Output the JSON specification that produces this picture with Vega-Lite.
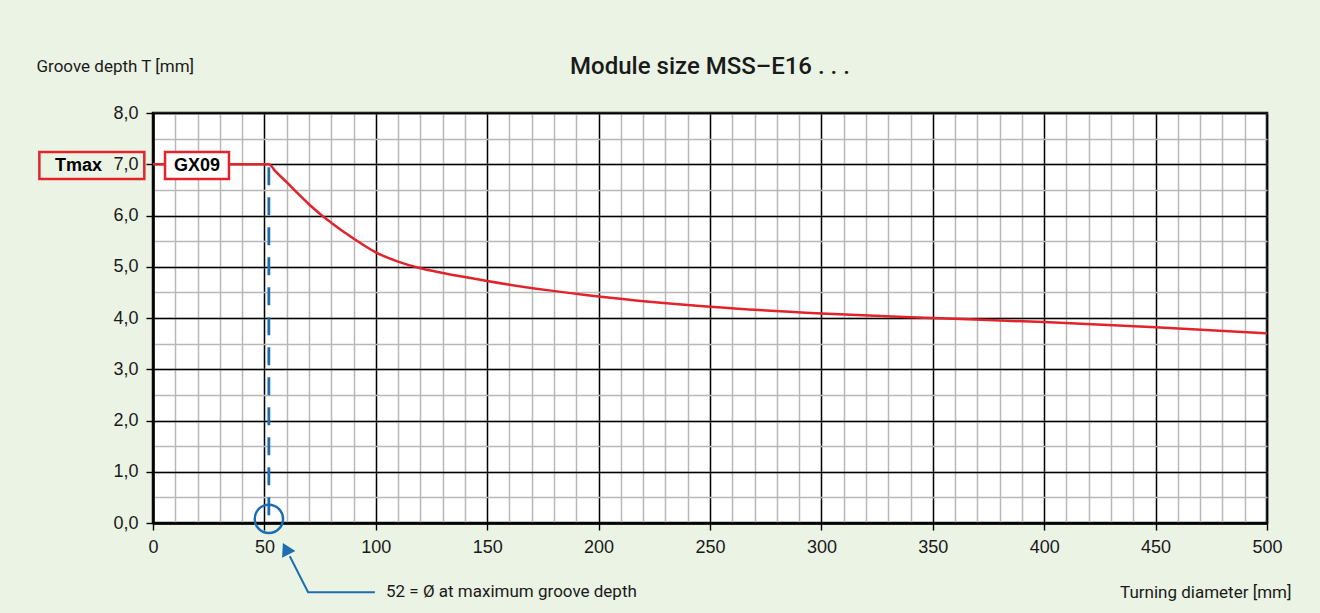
{
  "$schema": "https://vega.github.io/schema/vega-lite/v6.json",
  "width": 1114,
  "height": 410,
  "autosize": {"type": "none"},
  "padding": {"left": 153, "top": 113, "right": 53, "bottom": 90},
  "background": "#ebf3e4",
  "config": {
    "view": {"stroke": "#000000", "strokeWidth": 2.5, "fill": "#ffffff"},
    "font": "Liberation Sans"
  },
  "title": {
    "text": "Module size MSS–E16 . . .",
    "font": "Roboto",
    "fontSize": 24,
    "fontWeight": 500,
    "color": "#1a1a1a",
    "anchor": "middle",
    "frame": "group",
    "offset": 0,
    "dy": 41,
    "baseline": "alphabetic"
  },
  "datasets": {
    "curve": [
      {"d": 0, "t": 7.0}, {"d": 52, "t": 7.0}, {"d": 55, "t": 6.86}, {"d": 60, "t": 6.65},
      {"d": 65, "t": 6.43}, {"d": 70, "t": 6.22}, {"d": 75, "t": 6.03}, {"d": 80, "t": 5.86},
      {"d": 90, "t": 5.55}, {"d": 100, "t": 5.28}, {"d": 110, "t": 5.1}, {"d": 120, "t": 4.97},
      {"d": 130, "t": 4.88}, {"d": 140, "t": 4.8},
      {"d": 150, "t": 4.72}, {"d": 200, "t": 4.42}, {"d": 250, "t": 4.22}, {"d": 300, "t": 4.09},
      {"d": 350, "t": 4.0}, {"d": 400, "t": 3.92}, {"d": 450, "t": 3.82}, {"d": 500, "t": 3.7}
    ],
    "marker": [{"d": 52, "t0": 0.15, "t1": 7.0, "tc": 0.08}],
    "leader": [
      {"d": 99.6, "t": -1.35, "o": 1},
      {"d": 69.6, "t": -1.35, "o": 2},
      {"d": 61.4, "t": -0.65, "o": 3}
    ],
    "arrowhead": [{"d": 59.6, "t": -0.5}],
    "note": [{"d": 104.6, "t": -1.35, "label": "52 = Ø at maximum groove depth"}],
    "boxes": [
      {"name": "GX09", "x1": 5.4, "x2": 34.1, "y1": 6.71, "y2": 7.24, "lx": 19.75, "ly": 6.97},
      {"name": "Tmax", "x1": -51.0, "x2": -3.9, "y1": 6.71, "y2": 7.24, "lx": -22.9, "ly": 6.97}
    ]
  },
  "layer": [
    {
      "data": {"name": "curve"},
      "mark": {"type": "line", "color": "#e1242b", "strokeWidth": 2.5, "interpolate": "monotone"},
      "encoding": {
        "x": {
          "field": "d", "type": "quantitative",
          "scale": {"domain": [0, 500], "nice": false, "zero": false},
          "axis": {
            "orient": "top",
            "values": [0,10,20,30,40,50,60,70,80,90,100,110,120,130,140,150,160,170,180,190,200,210,220,230,240,250,260,270,280,290,300,310,320,330,340,350,360,370,380,390,400,410,420,430,440,450,460,470,480,490,500],
            "grid": true, "gridColor": "#b8b8b8", "gridWidth": 1.5,
            "labels": false, "ticks": false, "domain": false, "title": null
          }
        },
        "y": {
          "field": "t", "type": "quantitative",
          "scale": {"domain": [0, 8], "nice": false, "zero": false},
          "axis": {
            "orient": "right",
            "values": [0,0.5,1,1.5,2,2.5,3,3.5,4,4.5,5,5.5,6,6.5,7,7.5,8],
            "grid": true, "gridColor": "#b8b8b8", "gridWidth": 1.5,
            "labels": false, "ticks": false, "domain": false, "title": null
          }
        }
      }
    },
    {
      "data": {"name": "marker"},
      "mark": {"type": "rule", "color": "#1c6db2", "strokeWidth": 2.8, "strokeDash": [18, 12]},
      "encoding": {
        "x": {
          "field": "d", "type": "quantitative",
          "scale": {"domain": [0, 500], "nice": false, "zero": false},
          "axis": {
            "orient": "bottom",
            "values": [0,50,100,150,200,250,300,350,400,450,500],
            "grid": true, "gridColor": "#000000", "gridWidth": 1.4,
            "ticks": true, "tickColor": "#000000", "tickSize": 7, "tickWidth": 1.4,
            "domain": true, "domainColor": "#000000", "domainWidth": 2.5,
            "labelFont": "Liberation Sans", "labelFontSize": 18, "labelColor": "#1a1a1a", "labelPadding": 8,
            "labelFlush": false, "labelOverlap": false,
            "format": "d",
            "title": "Turning diameter [mm]",
            "titleFont": "Roboto", "titleFontSize": 17, "titleFontWeight": "normal", "titleColor": "#1a1a1a",
            "titleAlign": "right", "titleX": 1138, "titleY": 74, "titleBaseline": "alphabetic"
          }
        },
        "y": {
          "field": "t0", "type": "quantitative",
          "scale": {"domain": [0, 8], "nice": false, "zero": false},
          "axis": {
            "orient": "left",
            "values": [0,1,2,3,4,5,6,7,8],
            "grid": true, "gridColor": "#000000", "gridWidth": 1.4,
            "ticks": true, "tickColor": "#000000", "tickSize": 7, "tickWidth": 1.4,
            "domain": true, "domainColor": "#000000", "domainWidth": 2.5,
            "labelFont": "Liberation Sans", "labelFontSize": 18, "labelColor": "#1a1a1a", "labelPadding": 8,
            "labelFlush": false, "labelOverlap": false,
            "labelExpr": "replace(format(datum.value, '.1f'), '.', ',')",
            "title": "Groove depth T [mm]",
            "titleFont": "Roboto", "titleFontSize": 17, "titleFontWeight": "normal", "titleColor": "#1a1a1a",
            "titleAngle": 0, "titleAlign": "left", "titleX": -117, "titleY": -42, "titleBaseline": "alphabetic"
          }
        },
        "y2": {"field": "t1"}
      }
    },
    {
      "data": {"name": "marker"},
      "mark": {"type": "point", "shape": "circle", "filled": false, "color": "#1c6db2", "strokeWidth": 2.5, "size": 800, "opacity": 1},
      "encoding": {
        "x": {"field": "d", "type": "quantitative", "scale": {"domain": [0, 500], "nice": false, "zero": false}, "axis": null},
        "y": {"field": "tc", "type": "quantitative", "scale": {"domain": [0, 8], "nice": false, "zero": false}, "axis": null}
      }
    },
    {
      "data": {"name": "leader"},
      "mark": {"type": "line", "color": "#1c6db2", "strokeWidth": 2},
      "encoding": {
        "x": {"field": "d", "type": "quantitative", "scale": {"domain": [0, 500], "nice": false, "zero": false}, "axis": null},
        "y": {"field": "t", "type": "quantitative", "scale": {"domain": [0, 8], "nice": false, "zero": false}, "axis": null},
        "order": {"field": "o", "type": "quantitative"}
      }
    },
    {
      "data": {"name": "arrowhead"},
      "mark": {"type": "point", "shape": "triangle-up", "filled": true, "color": "#1c6db2", "size": 220, "angle": -27, "opacity": 1},
      "encoding": {
        "x": {"field": "d", "type": "quantitative", "scale": {"domain": [0, 500], "nice": false, "zero": false}, "axis": null},
        "y": {"field": "t", "type": "quantitative", "scale": {"domain": [0, 8], "nice": false, "zero": false}, "axis": null}
      }
    },
    {
      "data": {"name": "note"},
      "mark": {"type": "text", "font": "Roboto", "fontSize": 17, "color": "#1a1a1a", "align": "left", "baseline": "middle"},
      "encoding": {
        "x": {"field": "d", "type": "quantitative", "scale": {"domain": [0, 500], "nice": false, "zero": false}, "axis": null},
        "y": {"field": "t", "type": "quantitative", "scale": {"domain": [0, 8], "nice": false, "zero": false}, "axis": null},
        "text": {"field": "label"}
      }
    },
    {
      "data": {"name": "boxes"},
      "transform": [{"filter": "datum.name === 'GX09'"}],
      "mark": {"type": "rect", "fill": "#ffffff", "stroke": "#e1242b", "strokeWidth": 2.5},
      "encoding": {
        "x": {"field": "x1", "type": "quantitative", "scale": {"domain": [0, 500], "nice": false, "zero": false}, "axis": null},
        "x2": {"field": "x2"},
        "y": {"field": "y1", "type": "quantitative", "scale": {"domain": [0, 8], "nice": false, "zero": false}, "axis": null},
        "y2": {"field": "y2"}
      }
    },
    {
      "data": {"name": "boxes"},
      "transform": [{"filter": "datum.name === 'Tmax'"}],
      "mark": {"type": "rect", "fill": "#ebf3e4", "fillOpacity": 0, "stroke": "#e1242b", "strokeWidth": 2.5},
      "encoding": {
        "x": {"field": "x1", "type": "quantitative", "scale": {"domain": [0, 500], "nice": false, "zero": false}, "axis": null},
        "x2": {"field": "x2"},
        "y": {"field": "y1", "type": "quantitative", "scale": {"domain": [0, 8], "nice": false, "zero": false}, "axis": null},
        "y2": {"field": "y2"}
      }
    },
    {
      "data": {"name": "boxes"},
      "transform": [{"filter": "datum.name === 'GX09'"}],
      "mark": {"type": "text", "font": "Liberation Sans", "fontSize": 18, "fontWeight": "bold", "color": "#000000", "align": "center", "baseline": "middle"},
      "encoding": {
        "x": {"field": "lx", "type": "quantitative", "scale": {"domain": [0, 500], "nice": false, "zero": false}, "axis": null},
        "y": {"field": "ly", "type": "quantitative", "scale": {"domain": [0, 8], "nice": false, "zero": false}, "axis": null},
        "text": {"field": "name"}
      }
    },
    {
      "data": {"name": "boxes"},
      "transform": [{"filter": "datum.name === 'Tmax'"}],
      "mark": {"type": "text", "font": "Liberation Sans", "fontSize": 18, "fontWeight": "bold", "color": "#000000", "align": "right", "baseline": "middle"},
      "encoding": {
        "x": {"field": "lx", "type": "quantitative", "scale": {"domain": [0, 500], "nice": false, "zero": false}, "axis": null},
        "y": {"field": "ly", "type": "quantitative", "scale": {"domain": [0, 8], "nice": false, "zero": false}, "axis": null},
        "text": {"field": "name"}
      }
    }
  ]
}
